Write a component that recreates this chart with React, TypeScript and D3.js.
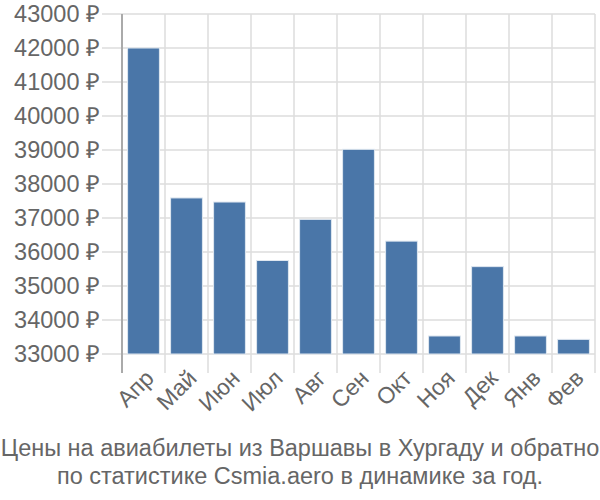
import React from "react";
import * as d3 from "d3";

const categories = ["Апр", "Май", "Июн", "Июл", "Авг", "Сен", "Окт", "Ноя", "Дек", "Янв", "Фев"];
const prices = [42000, 37590, 37470, 35750, 36960, 39020, 36320, 33530, 35570, 33530, 33430];
const yTicks = [33000, 34000, 35000, 36000, 37000, 38000, 39000, 40000, 41000, 42000, 43000];
const titleLines = [
  "Цены на авиабилеты из Варшавы в Хургаду и обратно",
  "по статистике Csmia.aero в динамике за год.",
];

export default function App() {
  const W = 600, H = 500;
  const left = 122, right = 595, top = 14, bottom = 354;
  const x = d3.scaleBand<string>().domain(categories).range([left, right]).paddingInner(0.26).paddingOuter(0.13);
  const xb = d3.scaleBand<string>().domain(categories).range([left, right]);
  const y = d3.scaleLinear().domain([33000, 43000]).range([bottom, top]);
  const font = "'Liberation Sans', Arial, sans-serif";
  const textColor = "#666";
  return (
    <svg width={W} height={H} style={{ position: "absolute", left: 0, top: 0 }} fontFamily={font}>
      <rect width={W} height={H} fill="#fff" />
      {yTicks.map((t) => (
        <g key={t}>
          <line x1={102} x2={right} y1={y(t)} y2={y(t)} stroke="#ddd" strokeWidth={1.5} />
          <text x={100} y={y(t)} dy="0.35em" textAnchor="end" fontSize={23.5} fill={textColor}>
            {t} ₽
          </text>
        </g>
      ))}
      {categories.map((c) => (
        <line key={c} x1={xb(c)!} x2={xb(c)!} y1={top} y2={bottom + 19} stroke="#ddd" strokeWidth={1.5} />
      ))}
      <line x1={right} x2={right} y1={top} y2={bottom + 19} stroke="#ddd" strokeWidth={1.5} />
      {categories.map((c, i) => (
        <rect
          key={c}
          x={x(c)!}
          y={y(prices[i])}
          width={x.bandwidth()}
          height={bottom - y(prices[i])}
          fill="#4a76a8"
          stroke="#dfe7f0"
          strokeWidth={1}
        />
      ))}
      <line x1={left} x2={left} y1={top} y2={bottom + 19} stroke="#aaa" strokeWidth={2} />
      {categories.map((c) => {
        const cx = xb(c)! + xb.bandwidth() / 2 + 6;
        const cy = bottom + 20;
        return (
          <text
            key={c}
            transform={`translate(${cx},${cy}) rotate(-45)`}
            textAnchor="end"
            dy="0.35em"
            fontSize={23}
            fill={textColor}
          >
            {c}
          </text>
        );
      })}
      {titleLines.map((l, i) => (
        <text key={i} x={300} y={456 + i * 28} textAnchor="middle" fontSize={23.5} fill={textColor}>
          {l}
        </text>
      ))}
    </svg>
  );
}
